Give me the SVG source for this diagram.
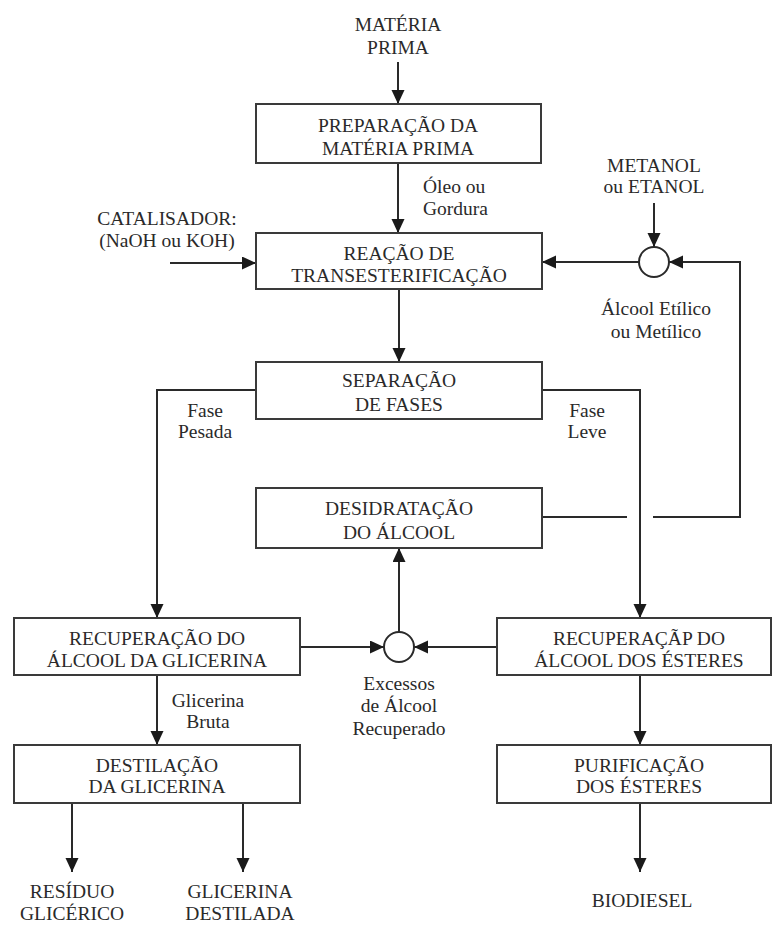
<svg xmlns="http://www.w3.org/2000/svg" width="773" height="925" viewBox="0 0 773 925">
<style>
text{font-family:'Liberation Serif','Times New Roman','DejaVu Serif',serif;font-size:19.5px;fill:#2a2a2a;text-anchor:middle}
.box{fill:#fff;stroke:#3a3a3a;stroke-width:2}
.ln{fill:none;stroke:#2a2a2a;stroke-width:2}
.arr{marker-end:url(#ah)}
.node{fill:#fff;stroke:#2a2a2a;stroke-width:2}
.lbl{text-anchor:start}
</style>
<defs>
<marker id="ah" markerUnits="userSpaceOnUse" markerWidth="14" markerHeight="14" refX="14" refY="6.5" orient="auto">
<path d="M0,0 L14,6.5 L0,13 z" fill="#1a1a1a"/>
</marker>
</defs>
<rect width="773" height="925" fill="#fff"/>
<g id="connectors">
<line class="ln arr" x1="398" y1="62" x2="398" y2="104"/>
<line class="ln arr" x1="398" y1="163" x2="398" y2="233"/>
<line class="ln arr" x1="170" y1="263" x2="256" y2="263"/>
<line class="ln arr" x1="654" y1="203" x2="654" y2="247"/>
<line class="ln arr" x1="639" y1="262" x2="542" y2="262"/>
<line class="ln" x1="542" y1="517" x2="627" y2="517"/>
<polyline class="ln arr" points="653,517 740,517 740,262 669,262"/>
<line class="ln arr" x1="399" y1="289" x2="399" y2="362"/>
<polyline class="ln arr" points="256,390 157,390 157,618"/>
<polyline class="ln arr" points="542,390 640,390 640,618"/>
<line class="ln arr" x1="300" y1="647" x2="384" y2="647"/>
<line class="ln arr" x1="497" y1="647" x2="414" y2="647"/>
<line class="ln arr" x1="399" y1="632" x2="399" y2="548"/>
<line class="ln arr" x1="157" y1="675" x2="157" y2="745"/>
<line class="ln arr" x1="640" y1="675" x2="640" y2="745"/>
<line class="ln arr" x1="72" y1="803" x2="72" y2="872"/>
<line class="ln arr" x1="243" y1="803" x2="243" y2="872"/>
<line class="ln arr" x1="640" y1="803" x2="640" y2="872"/>
</g>
<g font-family="Liberation Serif, serif">
<g id="materia-prima"><text x="398" y="31">MATÉRIA</text><text x="398" y="54">PRIMA</text></g>
<g id="preparacao"><rect class="box" x="256" y="104" width="285" height="59"/><text x="398" y="132">PREPARAÇÃO DA</text><text x="398" y="155">MATÉRIA PRIMA</text></g>
<g id="lbl-oleo"><text class="lbl" x="423" y="193">Óleo ou</text><text class="lbl" x="423" y="215">Gordura</text></g>
<g id="catalisador"><text x="167" y="225">CATALISADOR:</text><text x="167" y="247">(NaOH ou KOH)</text></g>
<g id="metanol"><text x="654" y="172">METANOL</text><text x="654" y="193">ou ETANOL</text></g>
<g id="mix1"><circle class="node" cx="654" cy="262" r="15"/></g>
<g id="lbl-alcool"><text x="656" y="315">Álcool Etílico</text><text x="656" y="338">ou Metílico</text></g>
<g id="reacao"><rect class="box" x="256" y="233" width="286" height="56"/><text x="399" y="260">REAÇÃO DE</text><text x="399" y="282">TRANSESTERIFICAÇÃO</text></g>
<g id="separacao"><rect class="box" x="256" y="362" width="286" height="57"/><text x="399" y="387">SEPARAÇÃO</text><text x="399" y="411">DE FASES</text></g>
<g id="lbl-pesada"><text x="205" y="417">Fase</text><text x="205" y="438">Pesada</text></g>
<g id="lbl-leve"><text x="587" y="417">Fase</text><text x="587" y="438">Leve</text></g>
<g id="desidratacao"><rect class="box" x="256" y="488" width="286" height="60"/><text x="399" y="515">DESIDRATAÇÃO</text><text x="399" y="539">DO ÁLCOOL</text></g>
<g id="rec-glicerina"><rect class="box" x="14" y="618" width="286" height="57"/><text x="157" y="645">RECUPERAÇÃO DO</text><text x="157" y="667">ÁLCOOL DA GLICERINA</text></g>
<g id="mix2"><circle class="node" cx="399" cy="647" r="15"/></g>
<g id="lbl-excessos"><text x="399" y="690">Excessos</text><text x="399" y="712">de Álcool</text><text x="399" y="735">Recuperado</text></g>
<g id="rec-esteres"><rect class="box" x="497" y="618" width="274" height="57"/><text x="639" y="645">RECUPERAÇÃP DO</text><text x="639" y="667">ÁLCOOL DOS ÉSTERES</text></g>
<g id="lbl-glicerina"><text x="208" y="707">Glicerina</text><text x="208" y="728">Bruta</text></g>
<g id="destilacao"><rect class="box" x="14" y="745" width="286" height="58"/><text x="157" y="772">DESTILAÇÃO</text><text x="157" y="793">DA GLICERINA</text></g>
<g id="purificacao"><rect class="box" x="497" y="745" width="274" height="58"/><text x="639" y="772">PURIFICAÇÃO</text><text x="639" y="793">DOS ÉSTERES</text></g>
<g id="residuo"><text x="72" y="898">RESÍDUO</text><text x="72" y="920">GLICÉRICO</text></g>
<g id="glicerina-dest"><text x="240" y="898">GLICERINA</text><text x="240" y="920">DESTILADA</text></g>
<g id="biodiesel"><text x="642" y="907">BIODIESEL</text></g>
</g>
</svg>
